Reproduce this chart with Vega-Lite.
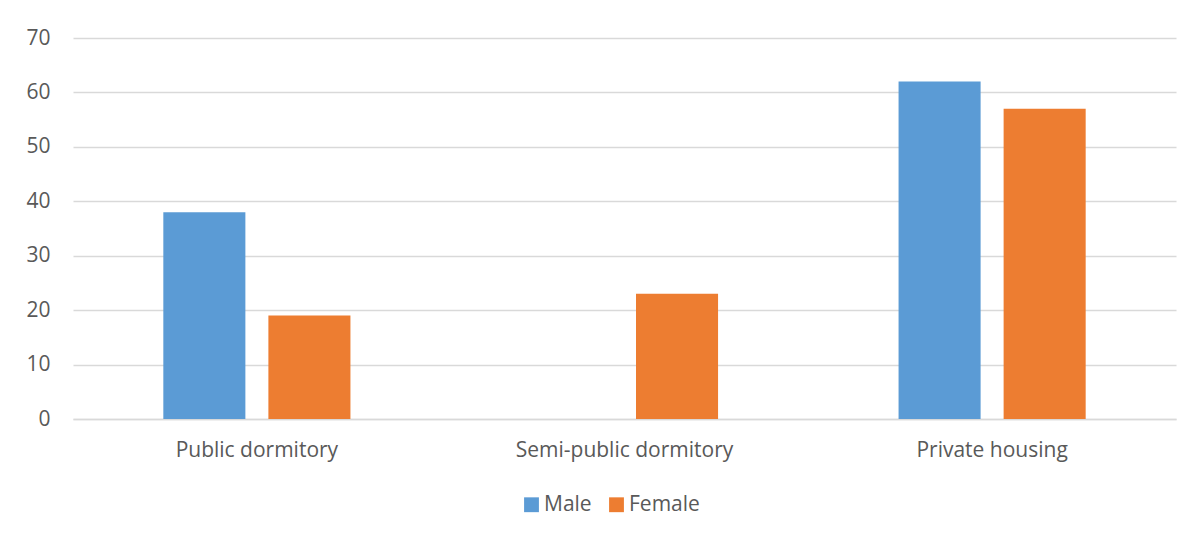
{
  "$schema": "https://vega.github.io/schema/vega-lite/v6.json",
  "width": 1103,
  "height": 381,
  "autosize": {"type": "none"},
  "padding": {"left": 73, "top": 38, "right": 20, "bottom": 118},
  "background": "white",
  "config": {
    "view": {"stroke": null},
    "font": "Open Sans",
    "axis": {"labelFont": "Open Sans", "labelColor": "#595959", "labelFontSize": 21, "ticks": false, "title": null, "labelLimit": 0},
    "legend": {"labelFont": "Open Sans", "labelColor": "#595959", "labelFontSize": 21, "labelLimit": 0}
  },
  "data": {
    "values": [
      {"category": "Public dormitory", "gender": "Male", "value": 38},
      {"category": "Public dormitory", "gender": "Female", "value": 19},
      {"category": "Semi-public dormitory", "gender": "Male", "value": 0},
      {"category": "Semi-public dormitory", "gender": "Female", "value": 23},
      {"category": "Private housing", "gender": "Male", "value": 62},
      {"category": "Private housing", "gender": "Female", "value": 57}
    ]
  },
  "mark": {"type": "bar"},
  "encoding": {
    "x": {
      "field": "category",
      "type": "nominal",
      "sort": ["Public dormitory", "Semi-public dormitory", "Private housing"],
      "scale": {"paddingInner": 0.491, "paddingOuter": 0.2457},
      "axis": {"labelAngle": 0, "domain": true, "domainColor": "#d9d9d9", "domainWidth": 1.5, "labelPadding": 20, "grid": false}
    },
    "xOffset": {
      "field": "gender",
      "type": "nominal",
      "sort": ["Male", "Female"],
      "scale": {"paddingInner": 0.219, "paddingOuter": 0}
    },
    "y": {
      "field": "value",
      "type": "quantitative",
      "scale": {"domain": [0, 70], "nice": false},
      "axis": {"values": [0, 10, 20, 30, 40, 50, 60, 70], "domain": false, "grid": true, "gridColor": "#d9d9d9", "gridWidth": 1.5, "labelPadding": 23}
    },
    "color": {
      "field": "gender",
      "type": "nominal",
      "sort": ["Male", "Female"],
      "scale": {"domain": ["Male", "Female"], "range": ["#5B9BD5", "#ED7D31"]},
      "legend": {"title": null, "orient": "none", "legendX": 448, "legendY": 456, "direction": "horizontal", "symbolType": "square", "symbolSize": 220, "symbolStrokeWidth": 0, "symbolOpacity": 1, "labelOffset": 2, "columnPadding": 14}
    }
  }
}
